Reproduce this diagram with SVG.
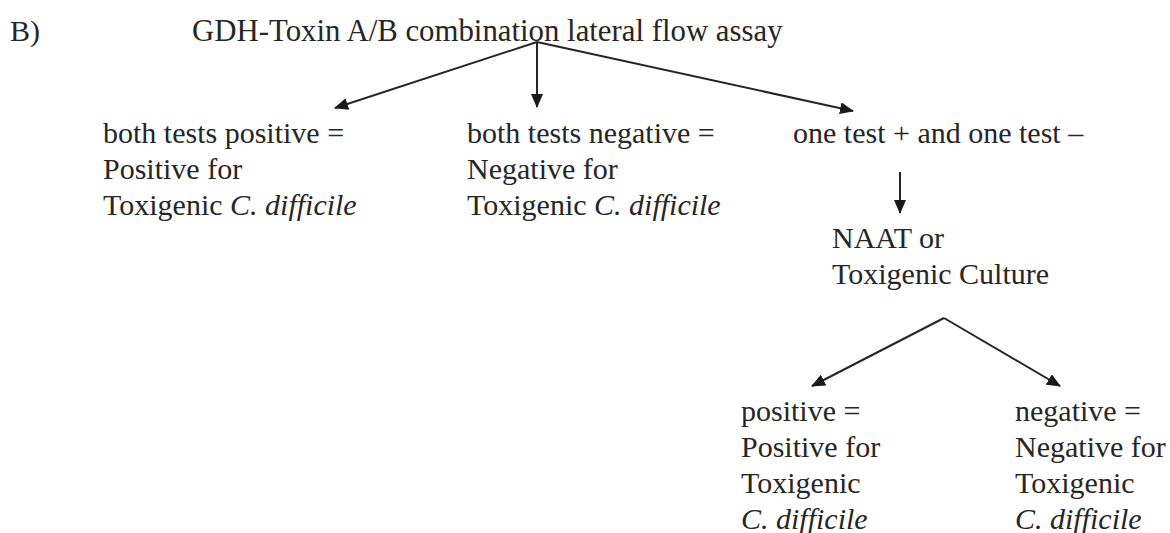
<svg xmlns="http://www.w3.org/2000/svg" width="1170" height="533" viewBox="0 0 1170 533">
<style>
text{font-family:'Liberation Serif','Tinos','Times New Roman','Nimbus Roman','DejaVu Serif',serif;font-size:30px;fill:#262626}
.t{font-size:30.8px}
.i{font-style:italic}
.c{stroke:#262626;stroke-width:2;fill:none;marker-end:url(#ah)}
</style>
<defs>
<marker id="ah" viewBox="0 0 14 12" refX="13" refY="6" markerWidth="14" markerHeight="12" markerUnits="userSpaceOnUse" orient="auto">
<path d="M0,0 L14,6 L0,12 z" fill="#1a1a1a"/>
</marker>
</defs>
<rect width="1170" height="533" fill="#ffffff"/>
<g id="label"><text x="10" y="41">B)</text></g>
<g id="root"><text class="t" x="192" y="41">GDH-Toxin A/B combination lateral flow assay</text></g>
<g id="bothpos">
<text x="103" y="143">both tests positive =</text>
<text x="103" y="179">Positive for</text>
<text x="103" y="215">Toxigenic <tspan class="i">C. difficile</tspan></text>
</g>
<g id="bothneg">
<text x="467" y="143">both tests negative =</text>
<text x="467" y="179">Negative for</text>
<text x="467" y="215">Toxigenic <tspan class="i">C. difficile</tspan></text>
</g>
<g id="mixed"><text x="793" y="143">one test + and one test –</text></g>
<g id="naat">
<text x="832" y="248">NAAT or</text>
<text x="832" y="284">Toxigenic Culture</text>
</g>
<g id="pos">
<text x="741" y="421">positive =</text>
<text x="741" y="457">Positive for</text>
<text x="741" y="493">Toxigenic</text>
<text x="741" y="529" class="i">C. difficile</text>
</g>
<g id="neg">
<text x="1015" y="421">negative =</text>
<text x="1015" y="457">Negative for</text>
<text x="1015" y="493">Toxigenic</text>
<text x="1015" y="529" class="i">C. difficile</text>
</g>
<g id="connectors">
<line class="c" x1="537" y1="42" x2="335" y2="108"/>
<line class="c" x1="537" y1="42" x2="537" y2="107"/>
<line class="c" x1="537" y1="42" x2="853" y2="111"/>
<line class="c" x1="900" y1="172" x2="900" y2="213"/>
<line class="c" x1="944" y1="318" x2="812" y2="386"/>
<line class="c" x1="944" y1="318" x2="1060" y2="386"/>
</g>
</svg>
